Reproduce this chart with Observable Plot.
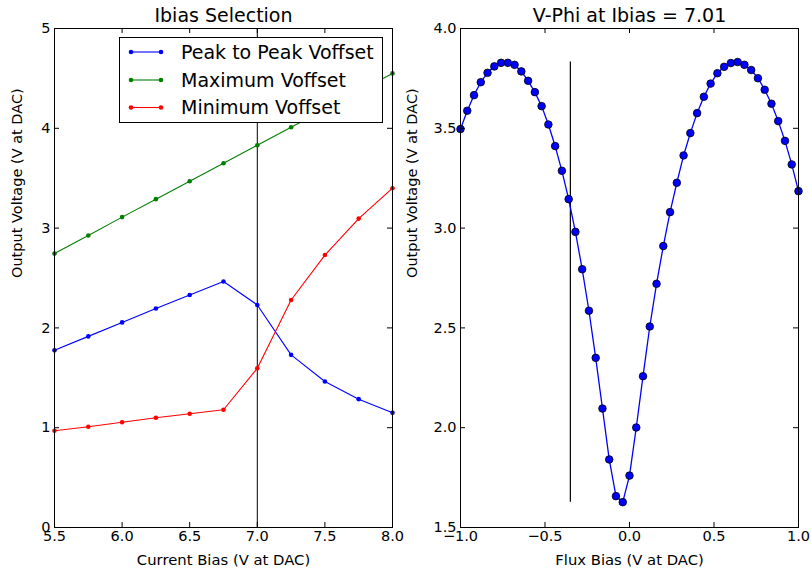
<!DOCTYPE html>
<html><head><meta charset="utf-8">
<script src="https://cdn.jsdelivr.net/npm/d3@7"></script>
<script src="https://cdn.jsdelivr.net/npm/@observablehq/plot@0.6"></script>
<style>
body{margin:0;background:#fff;}
#wrap{position:relative;width:812px;height:569px;display:flex;font-family:"DejaVu Sans",sans-serif;}
#wrap svg{overflow:visible;}
#legend{position:absolute;left:0;top:0;pointer-events:none;}
</style></head><body><div id="wrap"></div>
<script>
// ---- Left panel data ----
const currentBias = [5.5, 5.75, 6.0, 6.25, 6.5, 6.75, 7.0, 7.25, 7.5, 7.75, 8.0];
const peakToPeak  = [1.775, 1.915, 2.055, 2.195, 2.33, 2.465, 2.23, 1.73, 1.463, 1.286, 1.149];
const maxOffset   = [2.745, 2.926, 3.11, 3.29, 3.47, 3.65, 3.83, 4.01, 4.19, 4.37, 4.55];
const minOffset   = [0.97, 1.01, 1.055, 1.10, 1.14, 1.18, 1.595, 2.28, 2.73, 3.095, 3.40];
const seriesNames  = ["Peak to Peak Voffset", "Maximum Voffset", "Minimum Voffset"];
const seriesColors = ["#0000ff", "#008000", "#ff0000"];
const ibiasSelected = 7.0;
const leftXTicks = [5.5, 6.0, 6.5, 7.0, 7.5, 8.0];
const leftYTicks = [0, 1, 2, 3, 4, 5];

// ---- Right panel data ----
const fluxBias = [-1.00,-0.96,-0.92,-0.88,-0.84,-0.80,-0.76,-0.72,-0.68,-0.64,-0.60,-0.56,-0.52,-0.48,-0.44,-0.40,-0.36,-0.32,-0.28,-0.24,-0.20,-0.16,-0.12,-0.08,-0.04,0.00,0.04,0.08,0.12,0.16,0.20,0.24,0.28,0.32,0.36,0.40,0.44,0.48,0.52,0.56,0.60,0.64,0.68,0.72,0.76,0.80,0.84,0.88,0.92,0.96,1.00];
const vphi = [3.496,3.588,3.666,3.731,3.778,3.810,3.828,3.828,3.818,3.785,3.738,3.681,3.611,3.519,3.411,3.287,3.145,2.981,2.794,2.586,2.350,2.096,1.841,1.657,1.627,1.760,2.001,2.258,2.507,2.721,2.910,3.080,3.227,3.364,3.476,3.576,3.658,3.724,3.776,3.808,3.827,3.832,3.818,3.792,3.751,3.693,3.623,3.536,3.437,3.319,3.185];
const fluxSelected = -0.35;
const rightXTicks = [-1.0, -0.5, 0.0, 0.5, 1.0];
const rightYTicks = [1.5, 2.0, 2.5, 3.0, 3.5, 4.0];

const leftTitle = "Ibias Selection";
const rightTitle = "V-Phi at Ibias = 7.01";
const leftXLabel = "Current Bias (V at DAC)";
const rightXLabel = "Flux Bias (V at DAC)";
const yLabel = "Output Voltage (V at DAC)";

const W = 406, H = 569, mT = 28, mB = 42, mL = 54, mR = 14;
const FW = W - mL - mR, FH = H - mT - mB;
const FONT = "DejaVu Sans, sans-serif";

function frameMarks(xt, yt, xfmt, yfmt) {
  return [
    Plot.ruleX(xt, {x: d => d, insetTop: FH - 5, stroke: "black"}),
    Plot.ruleX(xt, {x: d => d, insetBottom: FH - 5, stroke: "black"}),
    Plot.ruleY(yt, {y: d => d, insetRight: FW - 5, stroke: "black"}),
    Plot.ruleY(yt, {y: d => d, insetLeft: FW - 5, stroke: "black"}),
    Plot.axisX({ticks: xt, tickSize: 0, tickPadding: 3, tickFormat: xfmt, label: null, fontSize: 14.5}),
    Plot.axisY({ticks: yt, tickSize: 0, tickPadding: 4, tickFormat: yfmt, label: null, fontSize: 14.5}),
    Plot.frame({stroke: "black"})
  ];
}
function textMarks(title, xl, ylDx) {
  return [
    Plot.text([title], {text: d => d, frameAnchor: "top", lineAnchor: "middle", dy: -13, fontSize: 19}),
    Plot.text([xl], {text: d => d, frameAnchor: "bottom", lineAnchor: "middle", dy: 33, fontSize: 14.8}),
    Plot.text([yLabel], {text: d => d, frameAnchor: "left", lineAnchor: "middle", dx: ylDx, rotate: -90, fontSize: 14.5})
  ];
}

const leftSeries = [peakToPeak, maxOffset, minOffset].map((arr, k) =>
  currentBias.map((x, i) => ({x, y: arr[i], series: seriesNames[k]})));

const leftMarks = [Plot.ruleX([ibiasSelected], {stroke: "black", strokeWidth: 1})];
leftSeries.forEach((rows, k) => {
  leftMarks.push(Plot.line(rows, {x: "x", y: "y", stroke: seriesColors[k], strokeWidth: 1.1}));
  leftMarks.push(Plot.dot(rows, {x: "x", y: "y", r: 2.3, fill: seriesColors[k], stroke: "none"}));
});

const left = Plot.plot({
  width: W, height: H, marginTop: mT, marginBottom: mB, marginLeft: mL, marginRight: mR,
  style: {fontFamily: FONT, fontSize: "14.5px", color: "black", background: "white"},
  x: {domain: [5.5, 8.0]},
  y: {domain: [0, 5]},
  marks: [...leftMarks, ...frameMarks(leftXTicks, leftYTicks, d3.format(".1f"), d3.format("d")), ...textMarks(leftTitle, leftXLabel, -37)]
});

const vphiRows = fluxBias.map((x, i) => ({x, y: vphi[i]}));
const right = Plot.plot({
  width: W, height: H, marginTop: mT, marginBottom: mB, marginLeft: mL, marginRight: mR,
  style: {fontFamily: FONT, fontSize: "14.5px", color: "black", background: "white"},
  x: {domain: [-1, 1]},
  y: {domain: [1.5, 4.0]},
  marks: [
    Plot.ruleX([fluxSelected], {y1: d3.min(vphi), y2: d3.max(vphi), stroke: "black", strokeWidth: 1.2}),
    Plot.line(vphiRows, {x: "x", y: "y", stroke: "#0000ff", strokeWidth: 1.3}),
    Plot.dot(vphiRows, {x: "x", y: "y", r: 3.8, fill: "#0000ff", stroke: "black", strokeWidth: 0.8}),
    ...frameMarks(rightXTicks, rightYTicks, d3.format(".1f"), d3.format(".1f")),
    ...textMarks(rightTitle, rightXLabel, -48)
  ]
});

const wrap = document.getElementById("wrap");
wrap.appendChild(left);
wrap.appendChild(right);

// ---- Legend (inside left axes, upper right) ----
const ns = "http://www.w3.org/2000/svg";
const lg = document.createElementNS(ns, "svg");
lg.setAttribute("id", "legend");
lg.setAttribute("width", 812); lg.setAttribute("height", 569);
const box = document.createElementNS(ns, "rect");
box.setAttribute("x", 119.5); box.setAttribute("y", 37.5);
box.setAttribute("width", 263); box.setAttribute("height", 85);
box.setAttribute("fill", "white"); box.setAttribute("stroke", "black");
lg.appendChild(box);
const rowY = [52, 80, 107.5];
seriesNames.forEach((name, k) => {
  const y = rowY[k];
  const ln = document.createElementNS(ns, "line");
  ln.setAttribute("x1", 131); ln.setAttribute("x2", 161);
  ln.setAttribute("y1", y); ln.setAttribute("y2", y);
  ln.setAttribute("stroke", seriesColors[k]); ln.setAttribute("stroke-width", 1.1);
  lg.appendChild(ln);
  [131, 161].forEach(cx => {
    const c = document.createElementNS(ns, "circle");
    c.setAttribute("cx", cx); c.setAttribute("cy", y); c.setAttribute("r", 2.3);
    c.setAttribute("fill", seriesColors[k]);
    lg.appendChild(c);
  });
  const t = document.createElementNS(ns, "text");
  t.setAttribute("x", 181); t.setAttribute("y", y);
  t.setAttribute("dy", "0.35em");
  t.setAttribute("font-size", 19); t.setAttribute("font-family", FONT);
  t.textContent = name;
  lg.appendChild(t);
});
wrap.appendChild(lg);
</script>
</body></html>
